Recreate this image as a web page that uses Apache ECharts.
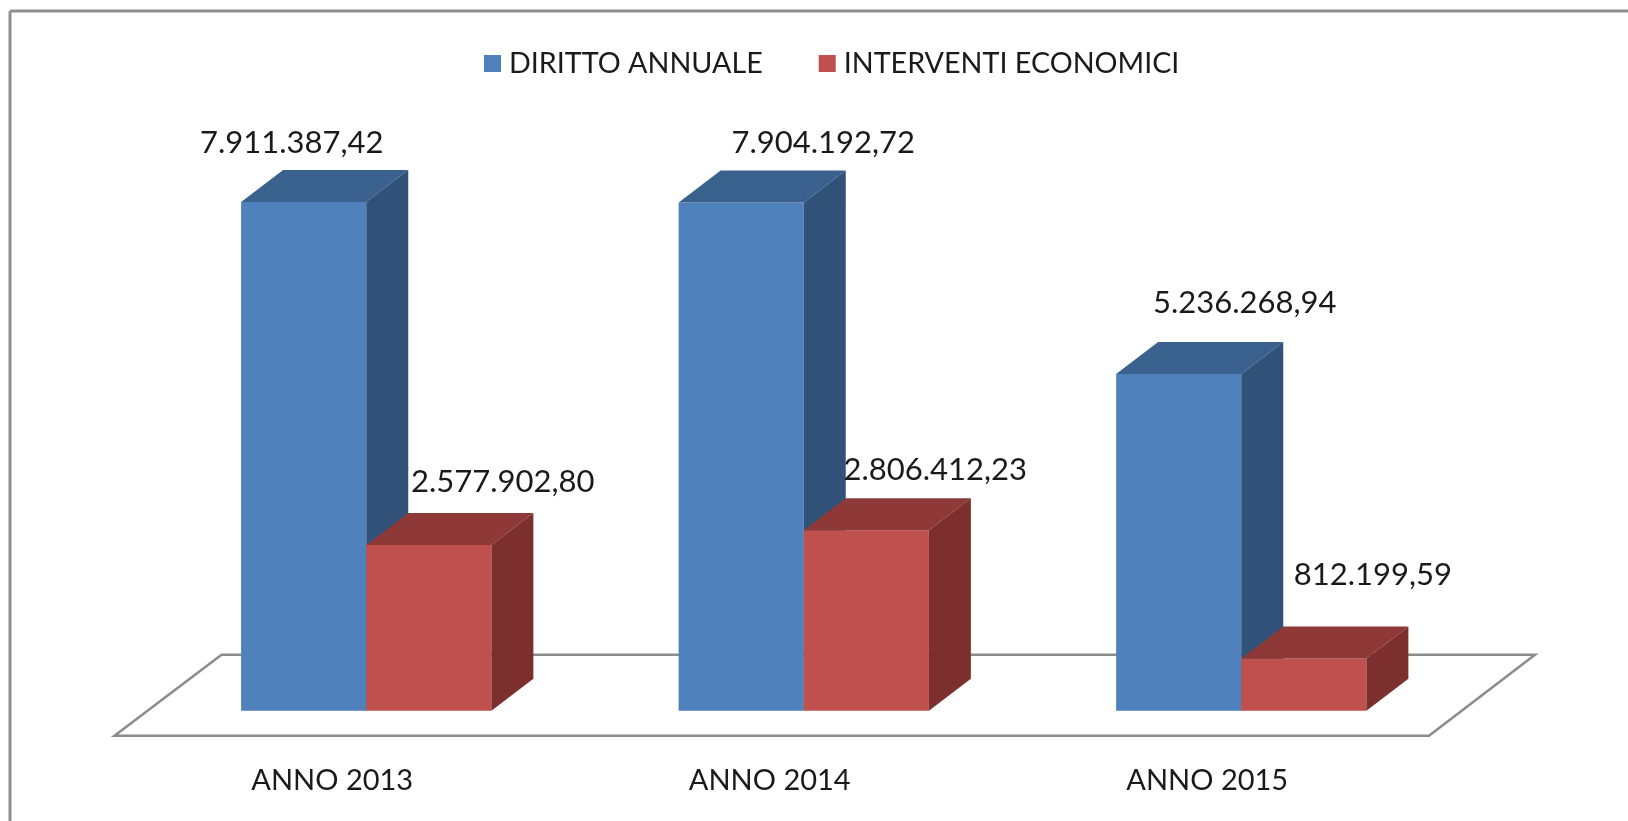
<!DOCTYPE html>
<html>
<head>
<meta charset="utf-8">
<title>Diritto annuale e interventi economici</title>
<script src="https://cdn.jsdelivr.net/npm/echarts@6/dist/echarts.min.js"></script>
<style>
    html, body { margin: 0; padding: 0; background: #fff; }
    #chart { width: 1628px; height: 821px; }
</style>
</head>
<body>
<div id="chart"></div>
<script>
var categories = ["ANNO 2013", "ANNO 2014", "ANNO 2015"];
var dirittoAnnuale = [7911387.42, 7904192.72, 5236268.94];
var interventiEconomici = [2577902.80, 2806412.23, 812199.59];

var FONT = "Lato, 'Open Sans', sans-serif";
var TEXT_COLOR = "#1a1a1a";
var BAR_W_RATIO = 0.286, DX = 42, DY = 32;

// labels were placed by hand in the original, so each one has its own shift from the bar top
var blueLabelShift = [[-12, -59], [82, -59], [66, -71]];
var redLabelShift = [[74, -63], [69, -60], [69, -83]];

function fmt(v) {
    var p = v.toFixed(2).split(".");
    return p[0].replace(/\B(?=(\d{3})+(?!\d))/g, ".") + "," + p[1];
}

function bar3d(side, front, top, dark, shifts) {
    return function (params, api) {
        var i = api.value(0);
        var v = api.value(1);
        var center = api.coord([i, 0])[0];
        var base = api.coord([i, 0])[1];
        var y = api.coord([i, v])[1];
        var w = api.size([1, 0])[0] * BAR_W_RATIO;
        var x0 = side < 0 ? center - w : center;
        var x1 = x0 + w;
        var shift = shifts[i];
        return {
            type: "group",
            children: [
                {type: "polygon", shape: {points: [[x0, base], [x1, base], [x1, y], [x0, y]]}, style: {fill: front}},
                {type: "polygon", shape: {points: [[x0, y], [x1, y], [x1 + DX, y - DY], [x0 + DX, y - DY]]}, style: {fill: top}},
                {type: "polygon", shape: {points: [[x1, base], [x1 + DX, base - DY], [x1 + DX, y - DY], [x1, y]]}, style: {fill: dark}},
                {
                    type: "text",
                    x: (x0 + x1) / 2 + shift[0],
                    y: y + shift[1],
                    style: {
                        text: fmt(v),
                        fill: TEXT_COLOR,
                        font: "31px " + FONT,
                        align: "center",
                        verticalAlign: "middle"
                    }
                }
            ]
        };
    };
}

function floorItem(params, api) {
    var g = params.coordSys;
    var base = g.y + g.height;
    var front = base + 25, back = base - 56;
    return {
        type: "polygon",
        shape: {
            points: [
                [g.x - 33, front],
                [g.x + g.width - 31, front],
                [g.x + g.width + 75, back],
                [g.x + 74, back]
            ]
        },
        style: {fill: "#fff", stroke: "#8c8c8c", lineWidth: 2.5}
    };
}

var myChart = echarts.init(document.getElementById("chart"), null, {renderer: "canvas"});
var option = {
    backgroundColor: "#fff",
    animation: false,
    graphic: [
        {type: "line", shape: {x1: 10, y1: 11, x2: 10, y2: 821}, style: {stroke: "#8f8f8f", lineWidth: 3}},
        {type: "line", shape: {x1: 10, y1: 11, x2: 1628, y2: 11}, style: {stroke: "#8f8f8f", lineWidth: 3}}
    ],
    legend: {
        left: 479,
        top: 44,
        itemWidth: 17,
        itemHeight: 17,
        itemGap: 56,
        icon: "rect",
        textStyle: {fontFamily: FONT, fontSize: 28.7, color: TEXT_COLOR, padding: [0, 0, 0, 3]},
        data: ["DIRITTO ANNUALE", "INTERVENTI ECONOMICI"]
    },
    grid: {left: 147.5, top: 196.3, width: 1312.5, height: 514.4},
    xAxis: {
        type: "category",
        data: categories,
        axisLine: {show: false},
        axisTick: {show: false},
        axisLabel: {
            fontFamily: FONT,
            fontSize: 29,
            color: TEXT_COLOR,
            margin: 55,
            padding: [0, 68, 0, 0]
        }
    },
    yAxis: {type: "value", min: 0, max: 8000000, show: false, splitLine: {show: false}},
    series: [
        {type: "custom", name: "floor", silent: true, renderItem: floorItem, data: [[0, 0]], encode: {x: 0, y: 1}, z: 1},
        {
            type: "custom",
            name: "DIRITTO ANNUALE",
            itemStyle: {color: "#4F81BD"},
            renderItem: bar3d(-1, "#4F81BD", "#3B618F", "#305279", blueLabelShift),
            data: dirittoAnnuale.map(function (v, i) { return [i, v]; }),
            encode: {x: 0, y: 1},
            z: 2
        },
        {
            type: "custom",
            name: "INTERVENTI ECONOMICI",
            itemStyle: {color: "#C0504D"},
            renderItem: bar3d(1, "#C0504D", "#8E3937", "#7C2F2D", redLabelShift),
            data: interventiEconomici.map(function (v, i) { return [i, v]; }),
            encode: {x: 0, y: 1},
            z: 3
        }
    ]
};
myChart.setOption(option);
</script>
</body>
</html>
